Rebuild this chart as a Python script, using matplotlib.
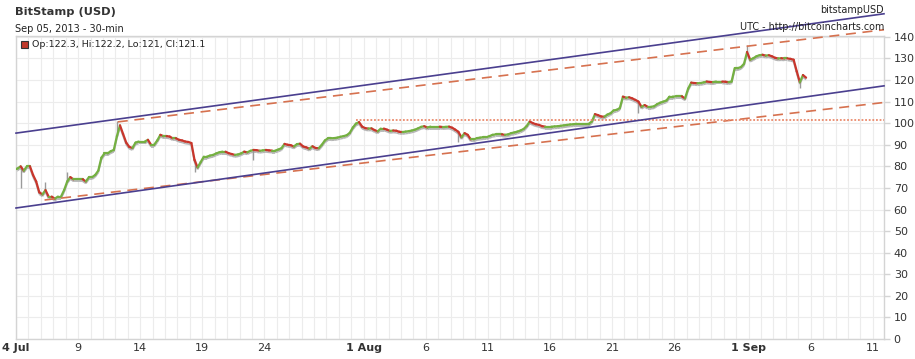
import matplotlib
matplotlib.use('Agg')
import matplotlib.pyplot as plt
from matplotlib.collections import LineCollection
import numpy as np

# ---------------- data ----------------
# 6-hour closes starting 4 Jul 2013 00:00 (day 0)
closes = [
    79, 80, 78, 80,            # 4 Jul
    80, 76, 73, 68,
    67, 69, 66, 66,
    65, 66, 66, 69,
    73, 75, 74, 74,
    74, 74, 73, 75,            # 9 Jul
    75, 76, 78, 84,
    86, 86, 87, 87.6,
    94, 99, 95, 91,
    89, 88.5, 91, 91.5,
    91.5, 91.5, 92.3, 90,      # 14 Jul
    90, 92, 94.6, 94,
    94, 93.8, 93, 93,
    92.3, 92, 91.5, 91.3,
    90.8, 83, 79.5, 82,
    84.5, 84.5, 85, 85.3,      # 19 Jul
    86, 86.5, 86.8, 86.8,
    86.1, 85.7, 85.3, 85.5,
    86, 86.8, 86.5, 87.2,
    87.6, 87.5, 87.2, 87.4,
    87.6, 87.4, 87.3, 87.3,    # 24 Jul
    87.8, 88.4, 90.4, 90,
    89.8, 89.2, 90.3, 90.5,
    89.2, 88.8, 88.2, 89.3,
    88.5, 88.4, 90, 92,
    93, 93, 93.1, 93.3,        # 29 Jul
    93.7, 94, 94.4, 95.5,
    98, 99.8, 100.5, 98.4,
    97.7, 97.5, 97.6, 96.8,    # 1 Aug
    96.2, 97.5, 97.5, 97,
    96.4, 96.6, 96.5, 96,
    95.9, 96.1, 96.3, 96.6,
    97, 97.6, 98.3, 98.6,
    98, 98.4, 98.4, 98.4,      # 6 Aug
    98.4, 98.2, 98.3, 98.4,
    97.9, 97, 96, 93.5,
    95.4, 94.6, 92.5, 92.5,
    93.1, 93.3, 93.5, 93.5,
    94, 94.6, 94.8, 94.8,      # 11 Aug
    94.8, 94.6, 94.8, 95.4,
    95.7, 96.1, 96.6, 97.3,
    98.7, 100.8, 100, 99.5,
    99.2, 98.6, 98.4, 98.4,
    98.4, 98.5, 98.6, 98.8,    # 16 Aug
    99, 99.2, 99.4, 99.5,
    99.7, 99.7, 99.7, 99.7,
    99.7, 100.8, 104.2, 103.7,
    103.1, 103, 104, 104.6,
    105.9, 106.2, 107, 112.3,  # 21 Aug
    111.8, 112, 111.5, 110.8,
    110, 107.6, 108.4, 107.6,
    107.6, 107.8, 108.8, 109.5,
    110, 110.5, 112.3, 112.3,
    112.4, 112.4, 112.4, 111.5,  # 26 Aug
    116, 118.8, 118.6, 118.5,
    118.6, 118.9, 119.3, 119.1,
    119, 119.3, 119.3, 119.3,
    119.2, 119, 119.3, 125.5,
    125.5, 126, 127.5, 133,    # 31 Aug
    129.4, 130.1, 131, 131.5,  # 1 Sep
    131.7, 131.3, 131.5, 131,
    130.3, 130, 130.1, 130,
    130, 129.8, 129.4, 124,
    119, 122.3, 121.1,         # 5 Sep
]
first_open = 78.5

# notable wick extremes (day, price)
spike_days = [0.3, 2.3, 4.1, 8.1, 14.4, 19.2, 35.7, 50.2, 58.8, 63.0]
spike_vals = [70, 72.9, 77.5, 101, 77.6, 83, 91.5, 104.6, 136, 116.2]

# trend lines (day, price)
upper_solid = ([0.0, 69.9], [95.4, 150.7])
lower_solid = ([0.0, 69.9], [60.7, 117.3])
upper_dash = ([8.2, 69.9], [100.6, 143.3])
lower_dash = ([2.3, 69.9], [64.4, 109.6])
resist_dot = ([27.4, 69.9], [101.3, 101.3])

tick_days = [0, 5, 10, 15, 20, 28, 33, 38, 43, 48, 53, 59, 64, 69]
tick_labels = ['4 Jul', '9', '14', '19', '24', '1 Aug', '6', '11', '16', '21',
               '26', '1 Sep', '6', '11']
bold_labels = ['4 Jul', '1 Aug', '1 Sep']
y_ticks = list(range(0, 150, 10))

title = 'BitStamp (USD)'
subtitle = 'Sep 05, 2013 - 30-min'
legend_text = 'Op:122.3, Hi:122.2, Lo:121, Cl:121.1'
right1 = 'bitstampUSD'
right2 = 'UTC - http://bitcoincharts.com'

# ---------------- figure ----------------
W, H = 915, 359
fig = plt.figure(figsize=(W / 100, H / 100), dpi=100)
fig.patch.set_facecolor('white')
L, R, T, B = 16, 884, 36, 339
ax = fig.add_axes([L / W, 1 - B / H, (R - L) / W, (B - T) / H])
ax.set_xlim(0, 69.9)
ax.set_ylim(0, 140.4)

grid_c = '#ececec'
for d in range(0, 70):
    ax.axvline(d, color=grid_c, lw=0.8, zorder=0)
for v in y_ticks:
    ax.axhline(v, color=grid_c, lw=0.8, zorder=0)

for s in ax.spines.values():
    s.set_color('#d4d4d4')
    s.set_linewidth(1.0)

# price trace (candles joined into a continuous coloured trace)
closes_a = np.array(closes, dtype=float)
opens_a = np.concatenate([[first_open], closes_a[:-1]])
n = len(closes_a)
t = np.arange(n) * 0.25 + 0.125
t0 = t - 0.25
up = closes_a >= opens_a
cols = np.where(up, '#74b041', '#c8362c')

segs = [[(t0[i], opens_a[i]), (t[i], closes_a[i])] for i in range(n)]
shadow = [[(t0[i], opens_a[i] - 0.9), (t[i], closes_a[i] - 0.9)] for i in range(n)]
ax.add_collection(LineCollection(shadow, colors='#b5b5b5', linewidths=1.3, zorder=2))
for d, v in zip(spike_days, spike_vals):
    i = min(int(d / 0.25), n - 1)
    ax.vlines(t[i], min(v, closes_a[i]), max(v, closes_a[i]), color='#9a9a9a', lw=1.0, zorder=2)
ax.add_collection(LineCollection(segs, colors=cols, linewidths=1.6, zorder=3,
                                 capstyle='round'))

# trend lines
solid_c = '#4a3f8f'
dash_c = '#d6714f'
ax.plot(*upper_solid, color=solid_c, lw=1.2, clip_on=False, zorder=5)
ax.plot(*lower_solid, color=solid_c, lw=1.2, clip_on=False, zorder=5)
ax.plot(*upper_dash, color=dash_c, lw=1.2, ls=(0, (6, 4)), clip_on=False, zorder=4)
ax.plot(*lower_dash, color=dash_c, lw=1.2, ls=(0, (6, 4)), clip_on=False, zorder=4)
ax.plot(*resist_dot, color='#ea8a6c', lw=1.3, ls=(0, (1, 1)), zorder=4)

# axes ticks
ax.yaxis.tick_right()
ax.set_yticks(y_ticks)
ax.set_yticklabels([str(v) for v in y_ticks])
ax.tick_params(axis='y', direction='out', length=4, width=1, color='#d4d4d4',
               labelsize=8, labelcolor='#333333', pad=3)
ax.set_xticks(tick_days)
ax.set_xticklabels(tick_labels)
ax.tick_params(axis='x', length=0, labelsize=8, labelcolor='#333333', pad=3)
for lbl in ax.get_xticklabels():
    if lbl.get_text() in bold_labels:
        lbl.set_fontweight('bold')

# texts
def fx(x):
    return x / W

def fy(y):
    return 1 - y / H

fig.text(fx(15), fy(12), title, fontsize=8.2, fontweight='bold', color='#333333',
         va='center', ha='left')
fig.text(fx(15), fy(29), subtitle, fontsize=7.0, color='#222222', va='center', ha='left')
fig.text(fx(884), fy(10), right1, fontsize=6.9, color='#222222', va='center', ha='right')
fig.text(fx(884), fy(27), right2, fontsize=6.9, color='#222222', va='center', ha='right')
fig.patches.append(plt.Rectangle((fx(21), fy(48)), 7 / W, 7 / H, transform=fig.transFigure,
                                 facecolor='#c0392b', edgecolor='#333333', lw=0.8))
fig.text(fx(32), fy(44.5), legend_text, fontsize=6.8, color='#222222', va='center', ha='left')

fig.savefig('out.png', dpi=100)
